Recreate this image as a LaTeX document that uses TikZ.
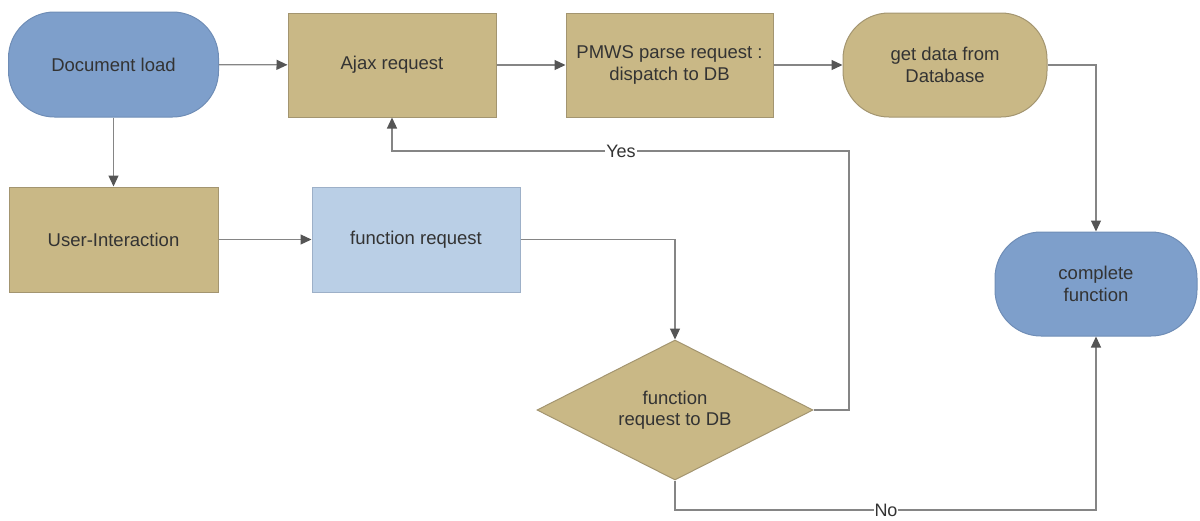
\documentclass[tikz,border=0pt]{standalone}
\usepackage{fontspec}
\setmainfont{Liberation Sans}
\usetikzlibrary{arrows.meta,shapes.geometric}

\definecolor{stadblue}{HTML}{7E9FCB}
\definecolor{stadblueedge}{HTML}{6F8DB6}
\definecolor{tanfill}{HTML}{C9B886}
\definecolor{tanedge}{HTML}{A39570}
\definecolor{paleblue}{HTML}{BACFE6}
\definecolor{paleblueedge}{HTML}{9DB0C8}
\definecolor{wire}{HTML}{858585}
\definecolor{tipgray}{HTML}{555555}
\definecolor{ink}{HTML}{333333}

\tikzset{
  base/.style={font=\fontsize{18.5}{21.5}\selectfont, text=ink, align=center,
               line width=1pt, inner sep=2pt},
  stadium/.style={base, rectangle, rounded corners=46pt, fill=stadblue, draw=stadblueedge,
                  minimum width=210pt, minimum height=105pt},
  tanstadium/.style={base, rectangle, rounded corners=46pt, fill=tanfill, draw=tanedge,
                     minimum width=204pt, minimum height=104pt},
  tanbox/.style={base, rectangle, fill=tanfill, draw=tanedge,
                 minimum height=104pt},
  bluebox/.style={base, rectangle, fill=paleblue, draw=paleblueedge,
                  minimum width=208pt, minimum height=105pt},
  decision/.style={base, diamond, fill=tanfill, draw=tanedge, aspect=2,
                   minimum width=276pt, minimum height=140pt, inner sep=0pt},
  arr/.style={draw=wire, line width=1.2pt,
              -{Triangle[length=11pt,width=10pt,fill=tipgray,color=tipgray]}},
  lbl/.style={font=\fontsize{18}{20}\selectfont, text=ink, fill=white,
              inner sep=1pt}
}

\begin{document}
\begin{tikzpicture}[x=1pt,y=-1pt]
  \useasboundingbox (0,0) rectangle (1200,520);

  % nodes
  \node[stadium] (doc) at (113.5,64.5) {Document load};
  \node[tanbox, minimum width=208pt] (ajax) at (392,65) {Ajax request};
  \node[tanbox, minimum width=207pt] (pmws) at (669.5,65) {PMWS parse request :\\dispatch to DB};
  \node[tanstadium] (data) at (945,65) {get data from\\Database};
  \node[tanbox, minimum width=209pt, minimum height=105pt] (user) at (113.5,239.5) {User-Interaction};
  \node[bluebox] (freq) at (416,239.5) {function request};
  \node[decision] (dec) at (675,410) {function\\request to DB};
  \node[stadium, minimum width=202pt, minimum height=104pt] (done) at (1096,284) {complete\\function};

  % bend points of the feedback and exit routes
  \coordinate (yesturn) at (849,151);
  \coordinate (nomid) at (886,510);

  % connectors
  \draw[arr] (doc) -- (ajax);
  \draw[arr] (ajax) -- (pmws);
  \draw[arr] (pmws) -- (data);
  \draw[arr] (data.east) -| (done.north);
  \draw[arr] (doc) -- (user);
  \draw[arr] (user) -- (freq);
  \draw[arr] (freq.east) -| (dec.north);
  \draw[arr] (dec.east) -| (yesturn) -| (ajax.south);
  \draw[arr] (dec.south) |- (nomid) -| (done.south);

  % branch labels
  \node[lbl] (yes) at (621,151) {Yes};
  \node[lbl, inner sep=0.5pt] (no) at (nomid) {No};
\end{tikzpicture}
\end{document}
